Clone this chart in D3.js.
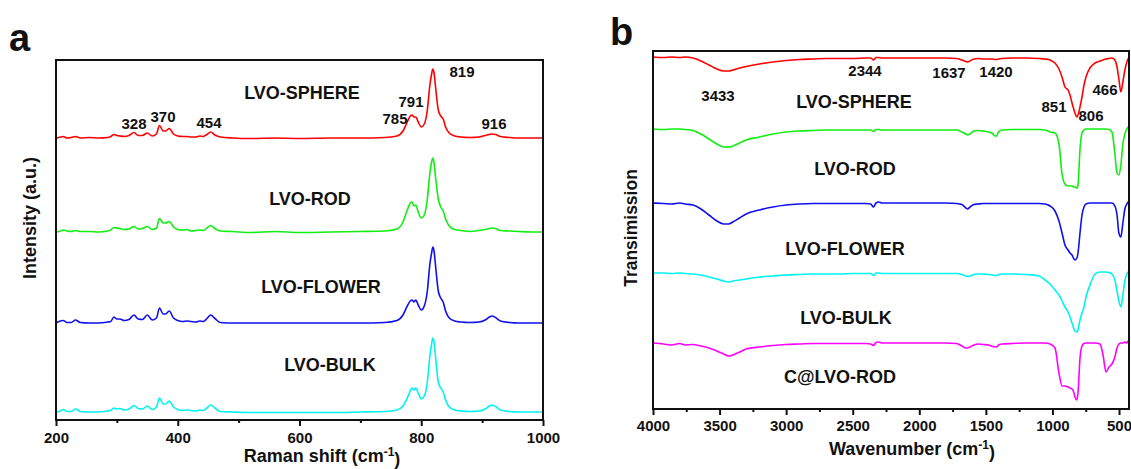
<!DOCTYPE html>
<html>
<head>
<meta charset="utf-8">
<script src="https://cdn.jsdelivr.net/npm/d3@7/dist/d3.min.js"></script>
<style>
  body { margin: 0; background: #fff; }
  text { font-family: "Liberation Sans", Arial, sans-serif; font-weight: bold; fill: #111; }
</style>
</head>
<body>
<svg id="chart" width="1131" height="469"></svg>
<script>
// ---------------------------------------------------------------
// Panel a : Raman spectra (intensity in a.u. above each trace baseline)
// ---------------------------------------------------------------
var ramanShift = [200,205,212,218,225,232,240, 255,270,285,290,295,300,305,
  312,320,328,335,342,350,358, 365,370,376,380,386,393,400,
  408,415,422,430,436,442,448, 454,461,470,490,520,560,600,
  650,700,740,760,770,777,782, 785,788,791,795,800,805,810,
  814,817,819,821,824,828,832, 836,840,846,855,865,880,895,
  905,912,916,922,930,945,960, 980,1000];

var ramanSphere = [0,0.5,1.5,0,0.5,1.5,0, 0.5,0,0.5,1.5,3.5,2.5,2,
  1.5,2.5,5.5,2.5,2.5,5,2, 4,12.5,7,7,9.5,4,2,
  1.5,1.5,1,1,2,1.5,3.5, 6,3,1,0,-0.5,0,-0.5,
  0,0,0.5,2,7,16,22, 23,21,21,16,11,14,28,
  52,64,69,65,48,28,22, 19,11,5,2,1,0.5,1,
  2.5,3.5,4,3.5,1.5,0.5,0, 0,0];

var ramanRod = [0,0.5,2,1,0.5,1.5,0.5, 0.5,0,1,2,4.5,4,3.5,
  2.5,3,5.5,3,3.5,5.5,2.5, 4,13.5,9,9,10.5,5,2.5,
  2,2.5,1,1.5,2,1.5,4, 6.5,3.5,1,0.5,-0.5,0.5,-0.5,
  0,0.5,1,3,10,22,29, 30,26,27,20,14,17,33,
  58,70,74,69,52,33,25, 21,13,6,2.5,1.5,0.5,1.5,
  2.5,3.5,4,3.5,1.5,1,0.5, 0,0];

var ramanFlower = [0,1.5,2.5,0.5,0.5,3,0.5, 0,0,1,1.5,6,4,4,
  2.5,3.5,8,4,3.5,8,3, 5,15,9,9,12,5,2.5,
  1.5,2,1.5,1,2,1.5,4.5, 8,4.5,0.5,0,0,0,0,
  0,0,0.5,2.5,8,17,22, 23,21,23,18,13,17,32,
  58,70,76,72,54,32,25, 21,12,5,2,1,0.5,1,
  3,6,7,5.5,2,0.5,0, 0,0];

var ramanBulk = [0,0.5,2.5,0.5,0.5,3,0.5, 0,0,1,1.5,4,3,3.5,
  2,3,6.5,3.5,3,6,2.5, 5,14,8,8,11,5,2.5,
  1.5,2,1.5,1,2,1.5,4, 7,4,0.5,0,-0.5,-0.5,-0.5,
  -0.5,0,0.5,2,6,14,21, 24,22,24,19,13,16,30,
  55,68,74,70,52,30,24, 20,12,5,2,1,0.5,1,
  3,6,7,5.5,2,0.5,0, 0,0];

var ramanNames = ["LVO-SPHERE", "LVO-ROD", "LVO-FLOWER", "LVO-BULK"];
var ramanOffset = [282, 188, 97, 8];
var ramanTicks = [200, 400, 600, 800, 1000];
var ramanMinorTicks = [300, 500, 700, 900];
var ramanPeaks = ["328", "370", "454", "785", "791", "819", "916"];

// ---------------------------------------------------------------
// Panel b : FTIR spectra (transmission drop below each trace baseline)
// ---------------------------------------------------------------
var irWavenumber = [4000,3920,3860,3800,3760,3700,3640,3580,3520,3470,
  3433,3400,3350,3300,3200,3100,3000,2900,2800,2700,
  2600,2500,2400,2365,2344,2325,2305,2280,2200,2100,
  2000,1900,1800,1720,1680,1650,1637,1620,1590,1560,
  1520,1480,1450,1430,1420,1405,1380,1300,1200,1100,
  1056,1018,981,951,928,906,883,868,853,838,
  831,816,808,793,778,763,748,718,680,643,
  620,598,575,553,531,515,501,486,471,456,
  441,432,425];

var irSphere = [0,0.5,0,0.5,0,1,4,8,12,14,
  14,13,11,9.5,7,5,3.5,2.5,2,1.5,
  1.5,1.5,1,1,3,0.5,0.5,1,1,1,
  1,1,1,1.5,3,4.5,5,4,2,1.5,
  2,2,2,2.5,2.5,2,1.5,1,1,1.5,
  2,3,6,12,20,30,33,38,46,53,
  56,60,58,50,40,28,20,11,6,4,
  3,2,1.5,1,3,10,22,35,25,13,
  5,2,1];

var irRod = [0,0.5,0,0,0.5,1.5,5,10,15,18,
  18,17,14,11,8,5,3,2,1.5,1,
  1,1,1,1,2.5,0.5,0.5,1,1,1,
  1,1,1,1,3,5,6,5,2,1.5,
  2,3,4.5,7,7,3,1,0.5,0.5,0.5,
  1,3,4,15,45,55,57,57,57,58,
  58,59,56,20,4,1,0,0,0,0,
  0,0,0.5,3,25,44,46,36,15,5,
  0,-2,0];

var irFlower = [0,0.5,1,0,1,2,6,12,18,21,
  21,19,15,11,7,4,2,1,0.5,0.5,
  0.5,0.5,0.5,1,4,0,-1,0,0,0,
  0,0,0,0.5,1.5,5,6,4,1.5,1,
  0.5,0.5,0.5,0.5,0.5,0.5,0.5,0.5,0.5,0.5,
  1,3,8,18,30,42,47,50,52,56,
  57,55,50,30,12,4,1,0,0,0,
  0,0,0,0,3,12,30,34,20,6,
  1,-1,0];

var irBulk = [0,0,0.5,0,0.5,1,2,4,6,8,
  9,8,7,6,4,3,2,1.5,1,1,
  1,0.5,0.5,0.5,2.5,0,0,0.5,0.5,0.5,
  0.5,0.5,0.5,0.5,1.5,3,3.5,3,1.5,1,
  1,1.5,2,2.5,2.5,1.5,1,1,1.5,3,
  7,11,17,22,28,34,39,44,50,56,
  58,59,57,47,40,34,24,12,1,-1,
  -1,-1,-0.5,1,7,18,28,34,22,8,
  1,-1,0];

var irCRod = [0,1,2,0.5,2,1.5,3,5,8,11,
  13,12,9,6,4,2.5,1.5,1,0.5,0.5,
  0.5,0.5,0.5,1,2.5,-0.5,-1,0,0,0,
  0,0,0,0.5,3,5,5,4,2,1,
  1.5,2,3.5,4,4,2,1,0.5,0,0,
  0,1,5,30,43,43,44,45,46,50,
  54,57,50,15,3,0.5,0,0,0,1,
  12,29,24,21,14,5,1,0,0,-1,
  0,-2,0];

var irNames = ["LVO-SPHERE", "LVO-ROD", "LVO-FLOWER", "LVO-BULK", "C@LVO-ROD"];
var irOffset = [352, 280, 206, 136, 66];
var irTicks = [4000, 3500, 3000, 2500, 2000, 1500, 1000, 500];
var irMinorTicks = [3750, 3250, 2750, 2250, 1750, 1250, 750];
var irPeaks = ["3433", "2344", "1637", "1420", "851", "806", "466"];

// ---------------------------------------------------------------
// Drawing
// ---------------------------------------------------------------
var svg = d3.select("#chart");
svg.append("rect").attr("width", 1131).attr("height", 469).attr("fill", "#fff");

function drawPanel(cfg) {
    var g = svg.append("g");

    var x = d3.scaleLinear().domain(cfg.xDomain).range([cfg.left, cfg.right]);
    var y = d3.scaleLinear().domain(cfg.yDomain).range([cfg.bottom, cfg.top]);

    // traces
    var line = d3.line()
        .x(function(d) { return x(d[0]); })
        .y(function(d) { return y(d[1]); })
        .curve(d3.curveMonotoneX);

    cfg.series.forEach(function(s, i) {
        var pts = cfg.xs.map(function(v, k) { return [v, cfg.offset[i] + cfg.sign * s[k]]; });
        g.append("path")
            .attr("d", line(pts))
            .attr("fill", "none")
            .attr("stroke", cfg.colors[i])
            .attr("stroke-width", 1.6)
            .attr("stroke-linejoin", "round");
    });

    // bottom axis, major + minor ticks
    var axis = d3.axisBottom(x).tickValues(cfg.ticks).tickSize(6).tickPadding(cfg.pad)
        .tickFormat(d3.format("d"));
    var ax = g.append("g").attr("transform", "translate(0," + cfg.bottom + ")").call(axis);
    ax.select(".domain").remove();
    ax.selectAll("line").attr("stroke", "#111").attr("stroke-width", 2);
    ax.selectAll("text").style("font-size", "15px").attr("fill", "#111");

    var minor = g.append("g").attr("transform", "translate(0," + cfg.bottom + ")")
        .call(d3.axisBottom(x).tickValues(cfg.minorTicks).tickSize(3).tickFormat(""));
    minor.select(".domain").remove();
    minor.selectAll("line").attr("stroke", "#111").attr("stroke-width", 2);

    // frame
    g.append("rect")
        .attr("x", cfg.left).attr("y", cfg.top)
        .attr("width", cfg.right - cfg.left).attr("height", cfg.bottom - cfg.top)
        .attr("fill", "none").attr("stroke", "#111").attr("stroke-width", 2);

    // series names and peak labels
    cfg.names.forEach(function(n, i) {
        g.append("text").attr("x", cfg.namePos[i][0]).attr("y", cfg.namePos[i][1])
            .attr("dy", "0.36em").attr("text-anchor", "middle")
            .style("font-size", "18px").text(n);
    });
    cfg.peaks.forEach(function(p, i) {
        g.append("text").attr("x", cfg.peakPos[i][0]).attr("y", cfg.peakPos[i][1])
            .attr("dy", "0.36em").attr("text-anchor", "middle")
            .style("font-size", "15px").text(p);
    });

    // x title with superscript
    var xt = g.append("text").attr("x", cfg.xTitlePos[0]).attr("y", cfg.xTitlePos[1])
        .attr("dy", "0.36em").attr("text-anchor", "middle").style("font-size", "18px");
    xt.append("tspan").text(cfg.xTitle + " (cm");
    xt.append("tspan").attr("dy", "-0.5em").style("font-size", "12px").text("-1");
    xt.append("tspan").attr("dy", "0.5em").text(")");

    // y title
    g.append("text")
        .attr("transform", "translate(" + cfg.yTitlePos[0] + "," + cfg.yTitlePos[1] + ") rotate(-90)")
        .attr("dy", "0.36em").attr("text-anchor", "middle")
        .style("font-size", cfg.yTitleSize).text(cfg.yTitle);

    // panel letter
    g.append("text").attr("x", cfg.letterPos[0]).attr("y", cfg.letterPos[1])
        .style("font-size", "38px").text(cfg.letter);
}

drawPanel({
    letter: "a", letterPos: [9, 51],
    left: 56, right: 543, top: 60, bottom: 420,
    xDomain: [200, 1000], yDomain: [0, 360],
    xs: ramanShift, sign: 1,
    series: [ramanSphere, ramanRod, ramanFlower, ramanBulk],
    offset: ramanOffset,
    colors: ["#ff0000", "#11ee11", "#1010ee", "#00f2f2"],
    ticks: ramanTicks, minorTicks: ramanMinorTicks, pad: 6,
    names: ramanNames,
    namePos: [[302, 93], [310, 199], [321, 287], [330, 365]],
    peaks: ramanPeaks,
    peakPos: [[134, 124], [163, 117], [209, 123], [395, 119], [411, 102], [462, 72], [494, 124]],
    xTitle: "Raman shift", xTitlePos: [322, 456],
    yTitle: "Intensity (a.u.)", yTitlePos: [30, 218], yTitleSize: "18px"
});

drawPanel({
    letter: "b", letterPos: [610, 45],
    left: 653, right: 1129, top: 51, bottom: 409,
    xDomain: [4000, 425], yDomain: [0, 358],
    xs: irWavenumber, sign: -1,
    series: [irSphere, irRod, irFlower, irBulk, irCRod],
    offset: irOffset,
    colors: ["#ff0000", "#11ee11", "#1010ee", "#00f2f2", "#ff00ff"],
    ticks: irTicks, minorTicks: irMinorTicks, pad: 5,
    names: irNames,
    namePos: [[854, 102], [855, 169], [845, 249], [846, 318], [840, 377]],
    peaks: irPeaks,
    peakPos: [[718, 96], [865, 71], [949, 73], [996, 72], [1054, 107], [1091, 116], [1105, 90]],
    xTitle: "Wavenumber", xTitlePos: [912, 449],
    yTitle: "Transimission", yTitlePos: [631, 228], yTitleSize: "17.5px"
});
</script>
</body>
</html>
